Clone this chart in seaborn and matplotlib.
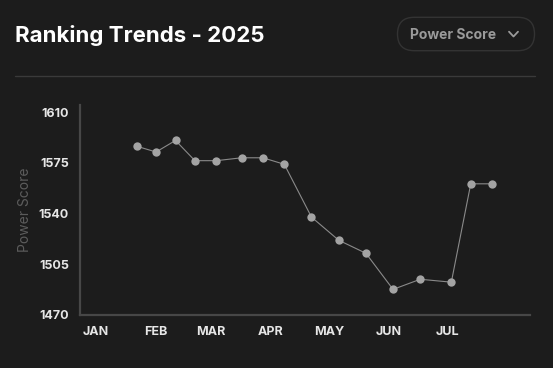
import matplotlib
import matplotlib.pyplot as plt
import pandas as pd
import seaborn as sns
from matplotlib.lines import Line2D
from matplotlib.patches import FancyBboxPatch
from matplotlib.transforms import IdentityTransform

matplotlib.use('Agg')

dates = ['2025-01-22', '2025-02-01', '2025-02-11', '2025-02-21', '2025-03-04',
         '2025-03-17', '2025-03-28', '2025-04-08', '2025-04-22', '2025-05-06',
         '2025-05-20', '2025-06-03', '2025-06-17', '2025-07-03', '2025-07-13',
         '2025-07-24']
scores = [1586.5, 1582.5, 1590.5, 1576.5, 1576.5, 1578.5, 1578.5, 1574,
          1537.5, 1521.5, 1512.5, 1487.5, 1494.5, 1492.5, 1560.5, 1560.5]
month_starts = ['2025-01-01', '2025-02-01', '2025-03-01', '2025-04-01',
                '2025-05-01', '2025-06-01', '2025-07-01']
month_labels = ['JAN', 'FEB', 'MAR', 'APR', 'MAY', 'JUN', 'JUL']
y_ticks = [1470, 1505, 1540, 1575, 1610]

bg = '#1c1c1c'
sns.set_style('dark')
plt.rcParams['font.family'] = ['Inter', 'DejaVu Sans']

df = pd.DataFrame({'date': pd.to_datetime(dates), 'score': scores})

W, H = 553, 368
fig = plt.figure(figsize=(W / 100, H / 100), dpi=100, facecolor=bg)
ax = fig.add_axes([80 / W, 1 - 314.7 / H, 450 / W, 209.7 / H])
ax.set_facecolor(bg)

sns.lineplot(data=df, x='date', y='score', ax=ax, color='#8a8a8a', linewidth=0.8,
             marker='o', markersize=6, markerfacecolor='#a3a3a3',
             markeredgecolor='#a3a3a3', markeredgewidth=0)

ax.set_xlim(pd.Timestamp('2024-12-23 20:00'), pd.Timestamp('2025-08-12 12:00'))
ax.set_ylim(1470, 1615)
ax.set_xticks(pd.to_datetime(month_starts))
ax.set_xticklabels(month_labels)
ax.set_yticks(y_ticks)
ax.tick_params(axis='both', length=0, colors='#e6e6e6', labelsize=9)
ax.tick_params(axis='x', pad=8)
ax.tick_params(axis='y', pad=8)
for lbl in ax.get_xticklabels() + ax.get_yticklabels():
    lbl.set_fontweight('bold')
ax.grid(False)
ax.set_xlabel('')
ax.set_ylabel('Power Score', color='#5c5c5c', fontsize=10, labelpad=5)

for side in ['top', 'right']:
    ax.spines[side].set_visible(False)
for side in ['left', 'bottom']:
    ax.spines[side].set_visible(True)
    ax.spines[side].set_color('#474747')
    ax.spines[side].set_linewidth(1.6)

fig.text(15 / W, 1 - 42 / H, 'Ranking Trends - 2025', color='white',
         fontsize=16, fontweight='bold', ha='left', va='baseline')

# dropdown pill (pixel coordinates, origin bottom-left)
pill = FancyBboxPatch((397.5, H - 50.7), 137, 33.4,
                      boxstyle='round,pad=0,rounding_size=16.7',
                      transform=IdentityTransform(), fill=False,
                      edgecolor='#333333', linewidth=1)
fig.patches.append(pill)
fig.text(410 / W, 1 - 39.3 / H, 'Power Score', color='#9a9a9a',
         fontsize=10, fontweight='bold', ha='left', va='baseline')
fig.lines.append(Line2D([509 / W, 513.5 / W, 518 / W],
                        [1 - 31.7 / H, 1 - 36.5 / H, 1 - 31.7 / H],
                        transform=fig.transFigure, color='#9a9a9a', linewidth=1.3))
# divider
fig.lines.append(Line2D([15 / W, 535 / W], [1 - 75.5 / H, 1 - 75.5 / H],
                        transform=fig.transFigure, color='#3a3a3a', linewidth=1))

fig.savefig('out.png', dpi=100, facecolor=bg)
